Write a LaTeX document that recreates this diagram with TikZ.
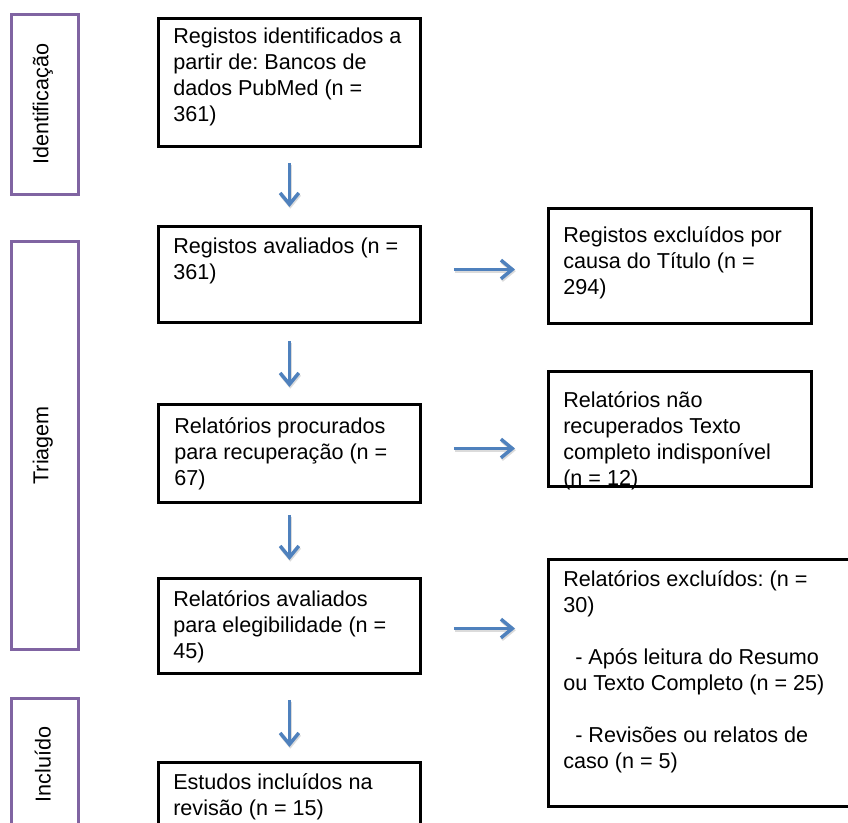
\documentclass[tikz,border=0pt]{standalone}
\usepackage{fontspec}
\setmainfont{Liberation Sans}
\usetikzlibrary{arrows.meta}
\definecolor{phasepurple}{HTML}{8064A2}
\definecolor{arrowblue}{HTML}{4F81BD}
\newcommand{\pu}{0.75pt}
\newcommand{\tlines}[1]{\parbox[t]{230pt}{\raggedright\frenchspacing #1}}
\tikzset{
  bx/.style={draw=black, line width=2.2pt, rectangle, inner sep=0pt, anchor=north west},
  ph/.style={draw=phasepurple, line width=2pt, rectangle, inner sep=0pt, anchor=north west},
  txt/.style={font=\fontsize{16.2pt}{19.5pt}\selectfont, inner sep=0pt, anchor=base west},
  phtxt/.style={font=\fontsize{16.2pt}{19.5pt}\selectfont, inner sep=0pt, rotate=90, anchor=center},
  arr/.style={draw=arrowblue, line width=2.6pt, -{Straight Barb[length=8.5pt,width=14pt]}},
  arrshadow/.style={draw=black!35, opacity=0.4, line width=2.6pt, -{Straight Barb[length=8.5pt,width=14pt]}, transform canvas={shift={(0.6pt,-1.3pt)}}},
}
\begin{document}
\begin{tikzpicture}[x=0.75pt,y=-0.75pt]
\useasboundingbox (0,0) rectangle (848,823);
\clip (0,0) rectangle (848,823);
\fill[white] (0,0) rectangle (848,823);

% texts (drawn first so borders lie over them)
\node[txt] (t1) at (173,44) {\tlines{Registos identificados a\\partir de: Bancos de\\dados PubMed (n =\\361)}};
\node[txt] (t2) at (173,254) {\tlines{Registos avaliados (n =\\361)}};
\node[txt] (t3) at (174,433) {\tlines{Relatórios procurados\\para recuperação (n =\\67)}};
\node[txt] (t4) at (173,606) {\tlines{Relatórios avaliados\\para elegibilidade (n =\\45)}};
\node[txt] (t5) at (173,789) {\tlines{Estudos incluídos na\\revisão (n = 15)}};
\node[txt] (tr1) at (563,243) {\tlines{Registos excluídos por\\causa do Título (n =\\294)}};
\node[txt] (tr2) at (563,407) {\tlines{Relatórios não\\recuperados Texto\\completo indisponível\\(n = 12)}};
\node[txt] (tr3) at (563,586) {\tlines{Relatórios excluídos: (n =\\30)\\\mbox{}\\\hspace*{9pt}- Após leitura do Resumo\\ou Texto Completo (n = 25)\\\mbox{}\\\hspace*{9pt}- Revisões ou relatos de\\caso (n = 5)}};

% main boxes
\node[bx, minimum width=262*\pu, minimum height=128*\pu] (b1) at (157,17) {};
\node[bx, minimum width=262*\pu, minimum height=96*\pu] (b2) at (157,225) {};
\node[bx, minimum width=262*\pu, minimum height=98*\pu] (b3) at (157,403) {};
\node[bx, minimum width=262*\pu, minimum height=95*\pu] (b4) at (157,577) {};
\node[bx, minimum width=262*\pu, minimum height=90*\pu] (b5) at (157,761) {};
\node[bx, minimum width=263*\pu, minimum height=115*\pu] (r1) at (547,207) {};
\node[bx, minimum width=263*\pu, minimum height=115*\pu] (r2) at (547,370) {};
\node[bx, minimum width=310*\pu, minimum height=247*\pu] (r3) at (547,558) {};

% phase boxes
\node[ph, minimum width=67*\pu, minimum height=180*\pu] (p1) at (10,13) {};
\node[ph, minimum width=67*\pu, minimum height=408*\pu] (p2) at (10,240) {};
\node[ph, minimum width=67*\pu, minimum height=132*\pu] (p3) at (10,697) {};
\node[phtxt] (l1) at ([xshift=-1.5pt]p1.center) {Identificação};
\node[phtxt] (l2) at ([xshift=-1.5pt]p2.center) {Triagem};
\node[phtxt] (l3) at ([xshift=-1.5pt]p3.center) {Incluído};

% vertical arrows
\foreach \a/\b/\s/\e in {b1/b2/11.25pt/13.5pt, b2/b3/12.75pt/12pt, b3/b4/8.25pt/12.75pt, b4/b5/18.75pt/10.5pt}{
  \draw[arrshadow, shorten <=\s, shorten >=\e] (\a.south) -- (\b.north);
  \draw[arr, shorten <=\s, shorten >=\e] (\a.south) -- (\b.north);
}
% horizontal arrows
\draw[arrshadow, shorten <=24pt, shorten >=24pt] ([yshift=3.75pt]b2.east) -- ([yshift=3.75pt]b2.east -| r1.west);
\draw[arr, shorten <=24pt, shorten >=24pt] ([yshift=3.75pt]b2.east) -- ([yshift=3.75pt]b2.east -| r1.west);
\draw[arrshadow, shorten <=24pt, shorten >=24pt] ([yshift=3.75pt]b3.east) -- ([yshift=3.75pt]b3.east -| r2.west);
\draw[arr, shorten <=24pt, shorten >=24pt] ([yshift=3.75pt]b3.east) -- ([yshift=3.75pt]b3.east -| r2.west);
\draw[arrshadow, shorten <=24pt, shorten >=24pt] ([yshift=-1.9pt]b4.east) -- ([yshift=-1.9pt]b4.east -| r3.west);
\draw[arr, shorten <=24pt, shorten >=24pt] ([yshift=-1.9pt]b4.east) -- ([yshift=-1.9pt]b4.east -| r3.west);
\end{tikzpicture}
\end{document}
